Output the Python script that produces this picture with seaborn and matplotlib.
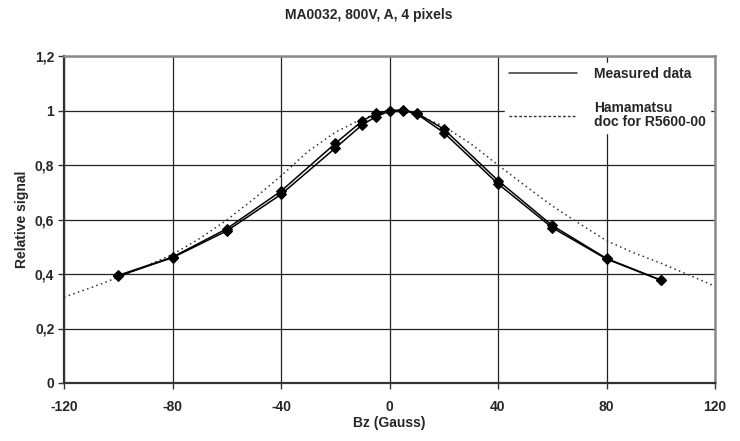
import matplotlib
matplotlib.use("Agg")
import matplotlib.pyplot as plt
import seaborn as sns
import pandas as pd
from matplotlib.lines import Line2D

# ---- data ----
bz_measured = [-100, -80, -60, -40, -20, -10, -5, 0, 5, 10, 20, 40, 60, 80, 100]
signal_run1 = [0.395, 0.462, 0.566, 0.704, 0.879, 0.962, 0.989, 1.000, 1.002, 0.991, 0.932, 0.743, 0.578, 0.457, 0.378]
signal_run2 = [0.392, 0.460, 0.558, 0.692, 0.862, 0.948, 0.977, 0.998, 1.000, 0.988, 0.919, 0.731, 0.570, 0.455, 0.377]

bz_hamamatsu = [-120, -110, -100, -90, -80, -70, -60, -50, -40, -30, -20, -10, 0,
                10, 20, 30, 40, 50, 60, 70, 80, 90, 100, 110, 120]
signal_hamamatsu = [0.315, 0.350, 0.388, 0.428, 0.472, 0.530, 0.598, 0.676, 0.760, 0.850, 0.920, 0.970, 1.000,
                    0.985, 0.942, 0.878, 0.800, 0.724, 0.650, 0.585, 0.522, 0.478, 0.440, 0.398, 0.355]

x_ticks = [-120, -80, -40, 0, 40, 80, 120]
y_ticks = [0, 0.2, 0.4, 0.6, 0.8, 1.0, 1.2]
y_tick_labels = ["0", "0,2", "0,4", "0,6", "0,8", "1", "1,2"]

title = "MA0032, 800V, A, 4 pixels"
x_label = "Bz (Gauss)"
y_label = "Relative signal"
legend_labels = ["Measured data", "Hamamatsu\ndoc for R5600-00"]

# ---- style ----
sns.set_theme(style="white")
plt.rcParams["font.family"] = ["Liberation Sans", "DejaVu Sans"]
plt.rcParams["font.weight"] = "bold"
FS = 10

W, H = 740, 441
fig = plt.figure(figsize=(W / 100, H / 100), dpi=100)
left, right, top, bottom = 64, 715, 56, 383
ax = fig.add_axes([left / W, 1 - bottom / H, (right - left) / W, (bottom - top) / H])

df1 = pd.DataFrame({"bz": bz_measured, "signal": signal_run1})
df2 = pd.DataFrame({"bz": bz_measured, "signal": signal_run2})
dfh = pd.DataFrame({"bz": bz_hamamatsu, "signal": signal_hamamatsu})

sns.lineplot(data=dfh, x="bz", y="signal", ax=ax, color="#333333", lw=1.1,
             linestyle=(0, (1, 2.2)), legend=False, zorder=3)
for d in (df1, df2):
    sns.lineplot(data=d, x="bz", y="signal", ax=ax, color="black", lw=1.1,
                 marker="D", markersize=5, markeredgecolor="black",
                 markerfacecolor="black", legend=False, zorder=4)

ax.set_xlim(-120, 120)
ax.set_ylim(0, 1.2)
ax.set_xticks(x_ticks)
ax.set_xticklabels([str(v) for v in x_ticks], fontsize=FS, fontweight="bold")
ax.set_yticks(y_ticks)
ax.set_yticklabels(y_tick_labels, fontsize=FS, fontweight="bold")

ax.grid(True, color="#222222", lw=0.9)
ax.set_axisbelow(True)
ax.tick_params(axis="x", direction="out", length=4, width=1, color="#333333",
               pad=8.5, bottom=True)
ax.tick_params(axis="y", direction="out", length=4, width=1, color="#333333",
               pad=3, left=True)

for s in ("left", "bottom"):
    ax.spines[s].set_color("#333333")
    ax.spines[s].set_linewidth(1.6)
for s in ("top", "right"):
    ax.spines[s].set_color("#8a8a8a")
    ax.spines[s].set_linewidth(1.8)

ax.set_xlabel(x_label, fontsize=FS, fontweight="bold", labelpad=1)
ax.set_ylabel(y_label, fontsize=FS, fontweight="bold", labelpad=4.5)
fig.suptitle(title, x=0.498, y=1 - 14.5 / H, va="center", fontsize=FS, fontweight="bold")

handles = [
    Line2D([], [], color="#333333", lw=1.1),
    Line2D([], [], color="#333333", lw=1.0, linestyle=(0, (2, 1.5))),
]
leg = ax.legend(handles, legend_labels, loc="upper left", bbox_to_anchor=(0.667, 1.0),
                frameon=True, fancybox=False, facecolor="white", edgecolor="white",
                framealpha=1.0, handlelength=4.9, handletextpad=1.2,
                labelspacing=1.45, borderpad=0.3, prop={"weight": "bold", "size": FS})
leg.get_texts()[1].set_linespacing(1.0)
leg.set_zorder(10)

fig.savefig("out.png", dpi=100)
